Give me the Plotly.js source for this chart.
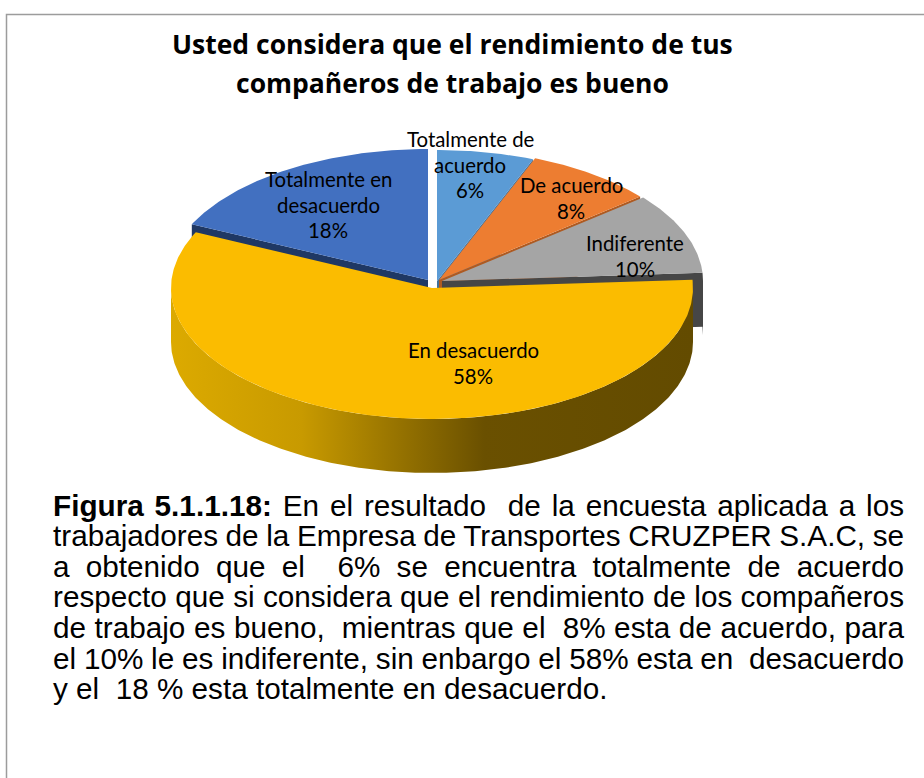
<!DOCTYPE html>
<html>
<head>
<meta charset="utf-8">
<script src="https://cdn.plot.ly/plotly-3.0.1.min.js"></script>
<style>html,body{margin:0;padding:0;background:#fff}#c{width:924px;height:778px}</style>
</head>
<body>
<div id="c"></div>
<script>
// Data
const categories = ['Totalmente de acuerdo','De acuerdo','Indiferente','En desacuerdo','Totalmente en desacuerdo'];
const values = [6, 8, 10, 58, 18];
const topColors = ['#5B9BD5','#ED7D31','#A5A5A5','#FBBC00','#4270C0'];
const wallColors = ['#41719C','#AE5A21','#464646','#000000','#1F3864'];
const apexX = [437, 439, 442, 432, 428];
const apexY = [281, 280, 281, 288, 280];
const drawOrder = [4, 0, 1, 2, 3];

const titleLines = ['Usted considera que el rendimiento de tus','compañeros de trabajo es bueno'];
const titleY = [44, 83];
const labelLines = [
  ['Totalmente de','acuerdo','6%'],
  ['De acuerdo','8%'],
  ['Indiferente','10%'],
  ['En desacuerdo','58%'],
  ['Totalmente en','desacuerdo','18%']
];
const labelX = [470, 571, 635, 473, 328];
const labelY = [139, 185, 243, 350, 179];
const labelStep = 25.6;
const captionLines = [
  '<b>Figura 5.1.1.18:</b> En el resultado\u00a0 de la encuesta aplicada a los',
  'trabajadores de la Empresa de Transportes CRUZPER S.A.C, se',
  'a obtenido que el\u00a0 6% se encuentra totalmente de acuerdo',
  'respecto que si considera que el rendimiento de los compañeros',
  'de trabajo es bueno,\u00a0 mientras que el\u00a0 8% esta de acuerdo, para',
  'el 10% le es indiferente, sin enbargo el 58% esta en\u00a0 desacuerdo',
  'y el\u00a0 18 % esta totalmente en desacuerdo.'
];
const captionTop = 505, captionStep = 30.6, captionLeft = 52, captionRight = 903;

// Geometry
const RX = 261, RY = 131, DEPTH = 54;
const total = values.reduce((a,b)=>a+b,0);
let cum = 0;
const spans = values.map(v => { const s = cum/total*2*Math.PI; cum += v; return [s, cum/total*2*Math.PI]; });
const px = (i,t) => apexX[i] + RX*Math.sin(t);
const py = (i,t) => apexY[i] - RY*Math.cos(t);
function arc(i,a,b){
  const n = Math.max(2, Math.ceil(Math.abs(b-a)/0.01));
  const xs=[], ys=[];
  for(let k=0;k<=n;k++){ const t=a+(b-a)*k/n; xs.push(px(i,t)); ys.push(py(i,t)); }
  return [xs,ys];
}
const base = {type:'scatter',mode:'lines',line:{width:0},hoverinfo:'skip',showlegend:false,fill:'toself'};
const traces = [];
drawOrder.forEach(i => {
  const [a,b] = spans[i];
  if(i === 3){
    const [xs,ys] = arc(i, Math.PI/2, 3*Math.PI/2);
    const x = xs.concat(xs.slice().reverse());
    const y = ys.concat(ys.slice().reverse().map(v=>v+DEPTH));
    traces.push(Object.assign({},base,{x,y,name:categories[i]+' rim',
      fillgradient:{type:'horizontal',colorscale:[[0,'#DCAA00'],[0.25,'#C89A00'],[0.6,'#6A5000'],[1,'#634B00']]}}));
  } else {
    const [rx,ry] = i === 2 ? arc(i, b, Math.PI/2) : [[px(i,i===4?a:b)],[py(i,i===4?a:b)]];
    const x = [apexX[i]].concat(rx, rx.slice().reverse(), [apexX[i]]);
    const y = [apexY[i]].concat(ry, ry.slice().reverse().map(v=>v+DEPTH), [apexY[i]+DEPTH]);
    traces.push(Object.assign({},base,{x,y,fillcolor:wallColors[i],name:categories[i]+' wall'}));
  }
  const [sx,sy] = arc(i,a,b);
  traces.push(Object.assign({},base,{
    x:[apexX[i]].concat(sx,[apexX[i]]),
    y:[apexY[i]].concat(sy,[apexY[i]]),
    fillcolor:topColors[i],name:categories[i]
  }));
});

const annotations = [];
const ann = (text,x,y,font,extra) => annotations.push(Object.assign({text,x,y,xref:'x',yref:'y',showarrow:false,xanchor:'center',yanchor:'middle',font,borderpad:0},extra||{}));
titleLines.forEach((t,i)=>ann('<b>'+t+'</b>',452.5,titleY[i],{family:'"Open Sans",sans-serif',size:26.5,color:'#000'}));
labelLines.forEach((ls,i)=>ls.forEach((t,j)=>ann(t,labelX[i],labelY[i]+j*labelStep,{family:'Lato,sans-serif',size:20.4,color:'#000'})));
captionLines.forEach((t,i)=>ann(t,captionLeft,captionTop+i*captionStep,{family:'"Liberation Sans",Arial,sans-serif',size:29.7,color:'#000'},{xanchor:'left',align:'left'}));

const layout = {
  width:924,height:778,margin:{l:0,r:0,t:0,b:0},
  paper_bgcolor:'#fff',plot_bgcolor:'#fff',showlegend:false,
  xaxis:{range:[0,924],visible:false,fixedrange:true},
  yaxis:{range:[778,0],visible:false,fixedrange:true},
  annotations,
  shapes:[{type:'path',path:'M 6.5 778 L 6.5 14.5 L 924 14.5',xref:'x',yref:'y',line:{color:'#9c9c9c',width:1.5}}]
};
Plotly.newPlot('c',traces,layout,{displayModeBar:false,staticPlot:true}).then(()=>{
  const texts = Array.from(document.querySelectorAll('.annotation-text'));
  texts.forEach(el=>{
    const idx = captionLines.findIndex(l=>l.replace(/<[^>]+>/g,'')===el.textContent);
    if(idx<0||idx===captionLines.length-1) return;
    const w = el.getComputedTextLength();
    const spaces = (el.textContent.match(/[ \u00a0]/g)||[]).length;
    el.setAttribute('word-spacing',((captionRight-captionLeft-w)/spaces).toFixed(2));
  });
});
</script>
</body>
</html>
